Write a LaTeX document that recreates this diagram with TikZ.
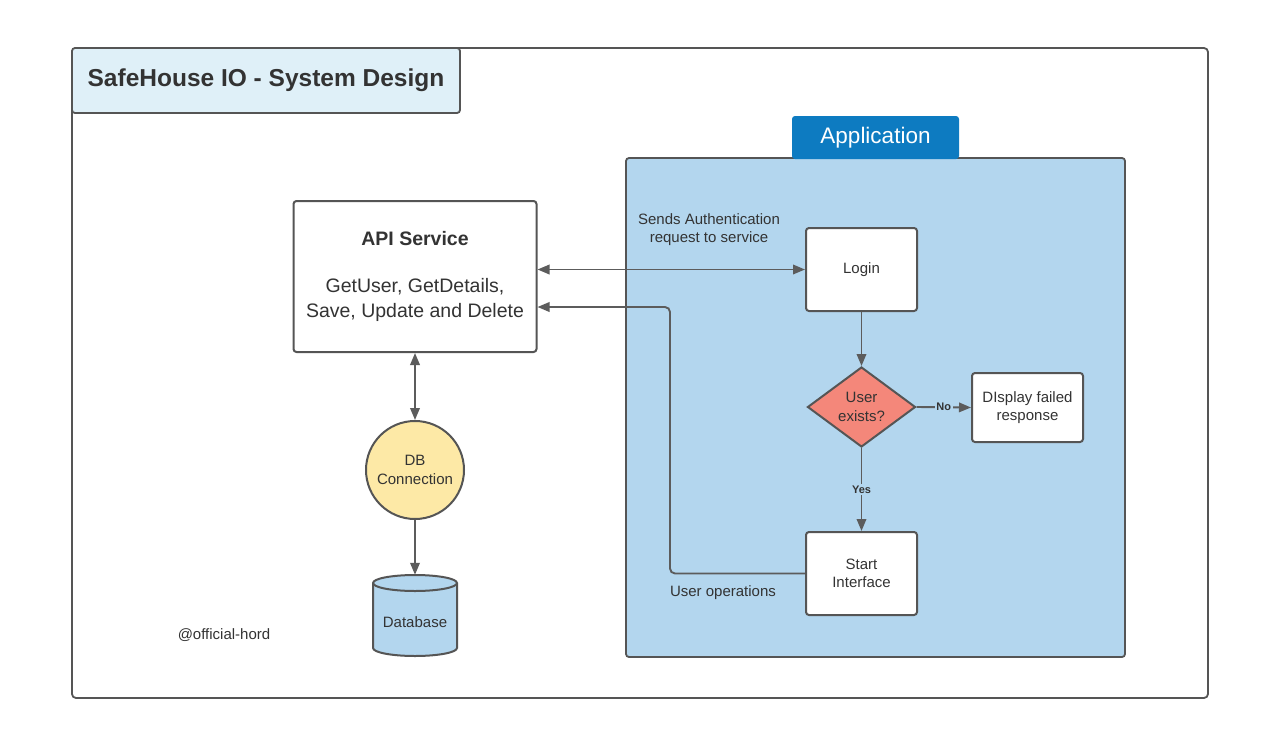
\documentclass[tikz,border=0pt]{standalone}
\usepackage{fontspec}
\setmainfont{Liberation Sans}
\usetikzlibrary{arrows.meta,shapes.geometric}
\definecolor{appblue}{HTML}{B3D6EE}
\definecolor{tabblue}{HTML}{0D7BC1}
\definecolor{titlefill}{HTML}{DFF0F8}
\definecolor{salmon}{HTML}{F4877A}
\definecolor{dbyellow}{HTML}{FDE9A6}
\definecolor{linegray}{HTML}{5C5C5C}
\definecolor{boxgray}{HTML}{555555}
\definecolor{txt}{HTML}{333333}
\tikzset{
  frm/.style={draw=boxgray, line width=1.8pt},
  box/.style={draw=boxgray, fill=white, line width=2pt, rounded corners=3pt, align=center,
    font=\fontsize{15}{18.5}\selectfont, text=txt, inner sep=0pt},
  tip/.tip={Triangle[length=12pt,width=9.5pt]},
  arr/.style={draw=linegray, line width=1.9pt, -tip},
  darr/.style={draw=linegray, line width=1.9pt, tip-tip},
  lbl/.style={fill=appblue, inner sep=1.5pt, font=\bfseries\fontsize{11}{13}\selectfont, text=txt},
  plain/.style={align=center, font=\fontsize{15}{18.5}\selectfont, text=txt, inner sep=0pt}
}
\begin{document}
\begin{tikzpicture}[x=1pt,y=-1pt]
\useasboundingbox (0,0) rectangle (1280,747);
\fill[white] (0,0) rectangle (1280,747);
% outer frame
\node[frm, rounded corners=4pt, minimum width=1136pt, minimum height=650pt] (frame) at (640,373) {};
% title
\node[frm, fill=titlefill, rounded corners=3pt, minimum width=388pt, minimum height=65pt,
  font=\bfseries\fontsize{24.5}{29}\selectfont, text=txt] (title) at (266,80.5) {SafeHouse IO - System Design};
% application container
\node[frm, fill=appblue, rounded corners=3pt, minimum width=499pt, minimum height=499pt] (app) at (875.5,407.5) {};
\node[fill=tabblue, rounded corners=3pt, minimum width=167pt, minimum height=43pt, inner sep=0pt,
  text=white, font=\fontsize{22.5}{27}\selectfont] (tab) at (875.5,137.5) {Application};
% nodes
\node[box, minimum width=243pt, minimum height=151pt, font=\fontsize{19.5}{25}\selectfont] (api) at (415,276.5)
  {\textbf{API Service}\\[22pt]GetUser, GetDetails,\\Save, Update and Delete};
\node[box, minimum width=111pt, minimum height=83pt] (login) at (861.5,269.5) {Login};
\node[diamond, draw=boxgray, fill=salmon, line width=2pt, minimum width=108pt, minimum height=80pt, aspect=1.35,
  inner sep=0pt, align=center, font=\fontsize{15}{18.5}\selectfont, text=txt] (dec) at (861.5,407) {User\\exists?};
\node[box, minimum width=111pt, minimum height=69pt] (fail) at (1027.5,407.5) {DIsplay failed\\response};
\node[box, minimum width=111pt, minimum height=83pt] (start) at (861.5,573.5) {Start\\Interface};
\node[circle, draw=boxgray, fill=dbyellow, line width=2pt, minimum size=98pt, inner sep=0pt, align=center,
  font=\fontsize{15}{18.5}\selectfont, text=txt] (conn) at (415,470) {DB\\Connection};
% database cylinder
\filldraw[draw=boxgray, fill=appblue, line width=2pt]
  (373,583) -- (373,648) arc[start angle=180, end angle=360, x radius=42pt, y radius=8pt]
  -- (457,583) arc[start angle=0, end angle=180, x radius=42pt, y radius=8pt] -- cycle;
\draw[draw=boxgray, line width=2pt] (373,583) arc[start angle=180, end angle=360, x radius=42pt, y radius=8pt];
\node[minimum width=84pt, minimum height=81pt, inner sep=0pt] (db) at (415,615.5) {};
\node[plain] (dbtext) at (415,622) {Database};
% texts
\node[plain] (sends) at (709,229.5) {Sends Authentication\\request to service};
\node[plain] (userops) at (723,593) {User operations};
\node[plain] (credit) at (224,635) {@official-hord};
% connectors
\draw[darr] (login.west -| api.east) -- (login.west);
\coordinate (ret) at (670,307);
\draw[arr, rounded corners=5pt] (start.west) -| (ret) -- (ret -| api.east);
\draw[arr] (login.south) -- (dec.north);
\draw[arr] (dec.east) -- node[lbl] (no) {No} (fail.west);
\draw[arr] (dec.south) -- node[lbl] (yes) {Yes} (start.north);
\draw[darr] (api.south) -- (conn.north);
\draw[arr] (conn.south) -- (db.north);
\end{tikzpicture}
\end{document}
